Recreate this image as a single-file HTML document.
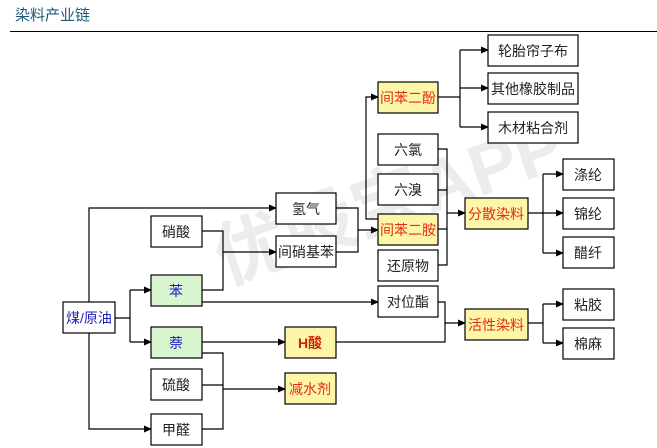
<!DOCTYPE html>
<html><head><meta charset="utf-8"><style>
body{margin:0;width:657px;height:448px;background:#fff;overflow:hidden;position:relative;font-family:"Liberation Sans","Noto Sans CJK SC",sans-serif;}
.t{position:absolute;left:15px;top:4px;font-size:15px;color:#1d5a78;}
.hr{position:absolute;left:10px;right:0;top:31px;border-top:1px solid #000;}
.wm{position:absolute;left:198px;top:205px;font-size:72px;font-weight:bold;color:#ececec;transform:rotate(-19deg);transform-origin:left top;white-space:nowrap;}
svg{position:absolute;left:0;top:0;}
</style></head><body>
<div class="t">染料产业链</div><div class="hr"></div>
<div class="wm">优股宝APP</div>
<svg width="657" height="448" font-family="Liberation Sans, Noto Sans CJK SC, sans-serif" font-size="14">
<defs><marker id="a" markerWidth="8" markerHeight="8" refX="7" refY="4" orient="auto" markerUnits="userSpaceOnUse"><path d="M0,0.5 L8,4 L0,7.5z" fill="#000"/></marker></defs>
<g stroke="#000" stroke-width="1.2" fill="none">
<path d="M115,318H130M130,290V342" />
<path d="M130,290H151" marker-end="url(#a)"/><path d="M130,342H151" marker-end="url(#a)"/>
<path d="M89,302V208H276" marker-end="url(#a)"/>
<path d="M89,333V429H151" marker-end="url(#a)"/>
<path d="M202,231H223V290H202"/><path d="M223,252H276" marker-end="url(#a)"/>
<path d="M202,302H378" marker-end="url(#a)"/>
<path d="M202,342H285" marker-end="url(#a)"/>
<path d="M202,353H223V429H202M202,385H223"/><path d="M223,389H285" marker-end="url(#a)"/>
<path d="M336,208H358V252H336"/><path d="M358,230H378" marker-end="url(#a)"/>
<path d="M378,219H366V97H378" marker-end="url(#a)"/>
<path d="M438,97H460M460,50V127"/>
<path d="M460,50H488" marker-end="url(#a)"/><path d="M460,88H488" marker-end="url(#a)"/><path d="M460,127H488" marker-end="url(#a)"/>
<path d="M438,149H447V265H438M438,190H447M438,229H447"/><path d="M447,213H465" marker-end="url(#a)"/>
<path d="M528,213H543M543,174V253"/>
<path d="M543,174H563" marker-end="url(#a)"/><path d="M543,213H563" marker-end="url(#a)"/><path d="M543,253H563" marker-end="url(#a)"/>
<path d="M438,302H445V342H336"/><path d="M445,323H465" marker-end="url(#a)"/>
<path d="M528,323H543M543,304V343"/>
<path d="M543,304H563" marker-end="url(#a)"/><path d="M543,343H563" marker-end="url(#a)"/>
</g>
<g stroke="#000" stroke-width="1.2">
<rect x="488" y="35" width="90" height="31" fill="#fff"/>
<rect x="488" y="73" width="90" height="31" fill="#fff"/>
<rect x="488" y="112" width="90" height="31" fill="#fff"/>
<rect x="378" y="82" width="60" height="31" fill="#fdf5a8"/>
<rect x="378" y="134" width="60" height="31" fill="#fff"/>
<rect x="378" y="174" width="60" height="31" fill="#fff"/>
<rect x="378" y="214" width="60" height="31" fill="#fdf5a8"/>
<rect x="378" y="250" width="60" height="31" fill="#fff"/>
<rect x="378" y="286" width="60" height="31" fill="#fff"/>
<rect x="465" y="198" width="63" height="31" fill="#fdf5a8"/>
<rect x="465" y="309" width="63" height="31" fill="#fdf5a8"/>
<rect x="563" y="159" width="51" height="31" fill="#fff"/>
<rect x="563" y="198" width="51" height="31" fill="#fff"/>
<rect x="563" y="237" width="51" height="31" fill="#fff"/>
<rect x="563" y="289" width="51" height="31" fill="#fff"/>
<rect x="563" y="328" width="51" height="31" fill="#fff"/>
<rect x="276" y="193" width="60" height="31" fill="#fff"/>
<rect x="276" y="236" width="60" height="31" fill="#fff"/>
<rect x="151" y="216" width="51" height="31" fill="#fff"/>
<rect x="151" y="275" width="51" height="31" fill="#d8f5d0"/>
<rect x="63" y="302" width="52" height="31" fill="#fff"/>
<rect x="151" y="327" width="51" height="31" fill="#d8f5d0"/>
<rect x="151" y="369" width="51" height="31" fill="#fff"/>
<rect x="151" y="414" width="51" height="31" fill="#fff"/>
<rect x="285" y="327" width="51" height="31" fill="#fdf5a8"/>
<rect x="285" y="373" width="51" height="31" fill="#fdf5a8"/>
</g>
<g text-anchor="middle" fill="#222">
<text x="533" y="56">轮胎帘子布</text>
<text x="533" y="94">其他橡胶制品</text>
<text x="533" y="133">木材粘合剂</text>
<text x="408" y="103" fill="#e03010">间苯二酚</text>
<text x="408" y="155">六氯</text>
<text x="408" y="195">六溴</text>
<text x="408" y="235" fill="#e03010">间苯二胺</text>
<text x="408" y="271">还原物</text>
<text x="408" y="307">对位酯</text>
<text x="496" y="219" fill="#e03010">分散染料</text>
<text x="496" y="330" fill="#e03010">活性染料</text>
<text x="588" y="180">涤纶</text>
<text x="588" y="219">锦纶</text>
<text x="588" y="258">醋纤</text>
<text x="588" y="310">粘胶</text>
<text x="588" y="349">棉麻</text>
<text x="306" y="214">氢气</text>
<text x="306" y="257">间硝基苯</text>
<text x="176" y="237">硝酸</text>
<text x="176" y="296" fill="#2020c0">苯</text>
<text x="89" y="323" fill="#2020c0">煤/原油</text>
<text x="176" y="348" fill="#2020c0">萘</text>
<text x="176" y="390">硫酸</text>
<text x="176" y="435">甲醛</text>
<text x="310" y="348" fill="#d02000" font-weight="bold">H酸</text>
<text x="310" y="394" fill="#e03010">减水剂</text>
</g>
</svg>
</body></html>
